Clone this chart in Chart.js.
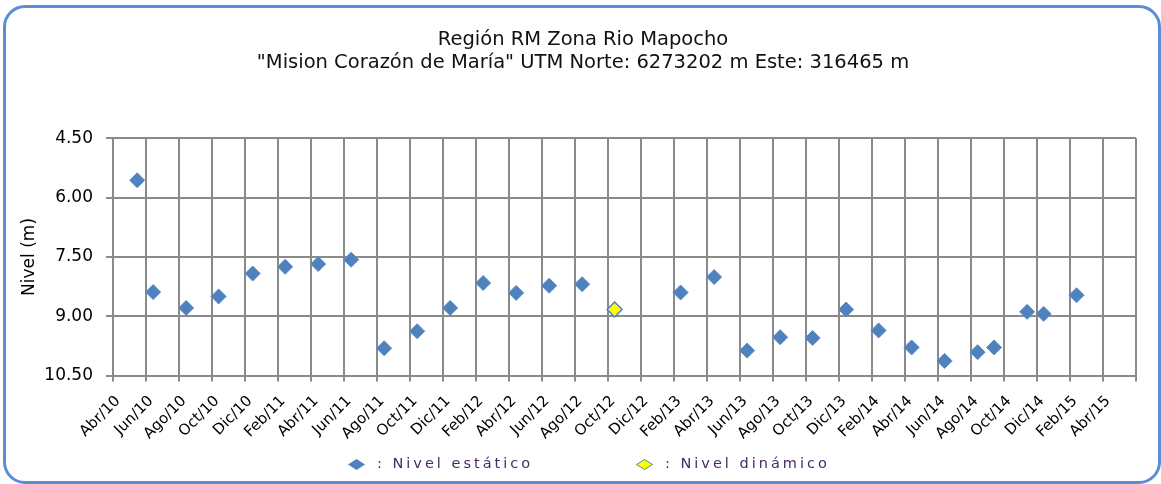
<!DOCTYPE html>
<html>
<head>
<meta charset="utf-8">
<script src="https://cdn.jsdelivr.net/npm/chart.js@4"></script>
<style>
  body { margin: 0; background: #fff; }
  #wrap { position: relative; width: 1161px; height: 484px; }
  #marco {
    position: absolute; left: 3px; top: 5px; width: 1158px; height: 479px;
    box-sizing: border-box; border: 3px solid #5b8dd6; border-radius: 22px; background: #fff;
  }
  #lienzo { position: absolute; left: 0; top: 0; width: 1161px; height: 484px; }
  .leyenda {
    position: absolute; top: 455px; font: 14.5px "DejaVu Sans", sans-serif;
    letter-spacing: 3px; color: #4a2a68; white-space: nowrap;
  }
  .leyenda svg { position: absolute; left: 0; top: 4px; }
  .leyenda span { position: absolute; left: 29px; top: 0; }
</style>
</head>
<body>
<div id="wrap">
  <div id="marco"></div>
  <div id="lienzo"><canvas id="grafico"></canvas></div>
  <div class="leyenda" style="left:348px">
    <svg width="17" height="11"><polygon points="0,5.5 8.5,0 17,5.5 8.5,11" fill="#4f81bd"/></svg>
    <span>: Nivel estático</span>
  </div>
  <div class="leyenda" style="left:636px">
    <svg width="17" height="11"><polygon points="0.5,5.5 8.5,0.5 16.5,5.5 8.5,10.5" fill="#ffff00" stroke="#4f81bd"/></svg>
    <span>: Nivel dinámico</span>
  </div>
</div>
<script>
// etiquetas del eje X, una cada dos meses desde Abr/10
const etiquetasMeses = ['Abr/10', 'Jun/10', 'Ago/10', 'Oct/10', 'Dic/10',
  'Feb/11', 'Abr/11', 'Jun/11', 'Ago/11', 'Oct/11', 'Dic/11',
  'Feb/12', 'Abr/12', 'Jun/12', 'Ago/12', 'Oct/12', 'Dic/12',
  'Feb/13', 'Abr/13', 'Jun/13', 'Ago/13', 'Oct/13', 'Dic/13',
  'Feb/14', 'Abr/14', 'Jun/14', 'Ago/14', 'Oct/14', 'Dic/14',
  'Feb/15', 'Abr/15'];

// mediciones de nivel estático
const fechasEstatico = ['2010-05-15', '2010-06-14', '2010-08-14', '2010-10-13', '2010-12-15',
  '2011-02-14', '2011-04-14', '2011-06-14', '2011-08-14', '2011-10-14', '2011-12-14',
  '2012-02-14', '2012-04-14', '2012-06-14', '2012-08-14',
  '2013-02-13', '2013-04-14', '2013-06-14', '2013-08-14', '2013-10-13', '2013-12-14',
  '2014-02-13', '2014-04-13', '2014-06-13', '2014-08-13', '2014-09-13', '2014-11-13',
  '2014-12-13', '2015-02-13'];
const nivelEstatico = [5.56, 8.39, 8.79, 8.50, 7.92,
  7.75, 7.68, 7.57, 9.81, 9.38, 8.79,
  8.16, 8.41, 8.23, 8.19,
  8.40, 8.01, 9.87, 9.53, 9.55, 8.83,
  9.36, 9.79, 10.13, 9.91, 9.79, 8.89,
  8.94, 8.47];

// mediciones de nivel dinámico
const fechasDinamico = ['2012-10-13'];
const nivelDinamico = [8.83];

// meses transcurridos desde abril de 2010
function mesDesdeInicio(fecha) {
  const [a, m, d] = fecha.split('-').map(Number);
  return (a - 2010) * 12 + (m - 4) + (d - 1) / 30;
}

function puntos(fechas, valores) {
  return fechas.map((f, i) => ({ x: mesDesdeInicio(f), y: valores[i] }));
}

const colorGrilla = '#8a8a8a';
const fuente = '"DejaVu Sans", Verdana, sans-serif';

const ctx = document.getElementById('grafico').getContext('2d');
new Chart(ctx, {
  type: 'scatter',
  data: {
    datasets: [{
      label: 'Nivel estático',
      data: puntos(fechasEstatico, nivelEstatico),
      pointStyle: 'rectRot',
      pointRadius: 7.5,
      backgroundColor: '#4f81bd',
      borderColor: '#5a8cc8',
      borderWidth: 1
    }, {
      label: 'Nivel dinámico',
      data: puntos(fechasDinamico, nivelDinamico),
      pointStyle: 'rectRot',
      pointRadius: 7.5,
      backgroundColor: '#ffff00',
      borderColor: '#4f81bd',
      borderWidth: 1.5
    }]
  },
  options: {
    responsive: true,
    maintainAspectRatio: false,
    animation: false,
    // el margen izquierdo centra el título sobre el marco
    layout: { padding: { left: 30, right: 25, top: 0, bottom: 0 } },
    plugins: {
      legend: { display: false },
      tooltip: { enabled: false },
      title: {
        display: true,
        text: ['Región RM Zona Rio Mapocho', '"Mision Corazón de María" UTM Norte: 6273202 m Este: 316465 m'],
        color: '#111',
        font: { family: fuente, size: 19.5, weight: 'normal', lineHeight: 1.15 },
        padding: { top: 29, bottom: 64.5 }
      }
    },
    scales: {
      x: {
        type: 'linear',
        min: 0,
        max: 62,
        afterFit: function(scale) { scale.height = 108.5; },
        grid: { color: colorGrilla, lineWidth: 2, tickLength: 6, tickColor: colorGrilla },
        border: { color: colorGrilla, width: 2 },
        ticks: {
          stepSize: 2,
          autoSkip: false,
          minRotation: 45,
          maxRotation: 45,
          padding: 11,
          labelOffset: 5,
          color: '#000',
          font: { family: fuente, size: 15 },
          callback: function(v) { return etiquetasMeses[v / 2] || ''; }
        }
      },
      y: {
        type: 'linear',
        reverse: true,
        min: 4.5,
        max: 10.5,
        afterFit: function(scale) { scale.width = 83; },
        grid: { color: colorGrilla, lineWidth: 2, tickLength: 7, tickColor: colorGrilla },
        border: { color: colorGrilla, width: 2 },
        title: {
          display: true,
          text: 'Nivel (m)',
          color: '#000',
          font: { family: fuente, size: 17 },
          padding: { top: -11, bottom: 0 }
        },
        ticks: {
          stepSize: 1.5,
          padding: 13,
          color: '#000',
          font: { family: fuente, size: 17 },
          callback: function(v) { return v.toFixed(2); }
        }
      }
    }
  }
});
</script>
</body>
</html>
